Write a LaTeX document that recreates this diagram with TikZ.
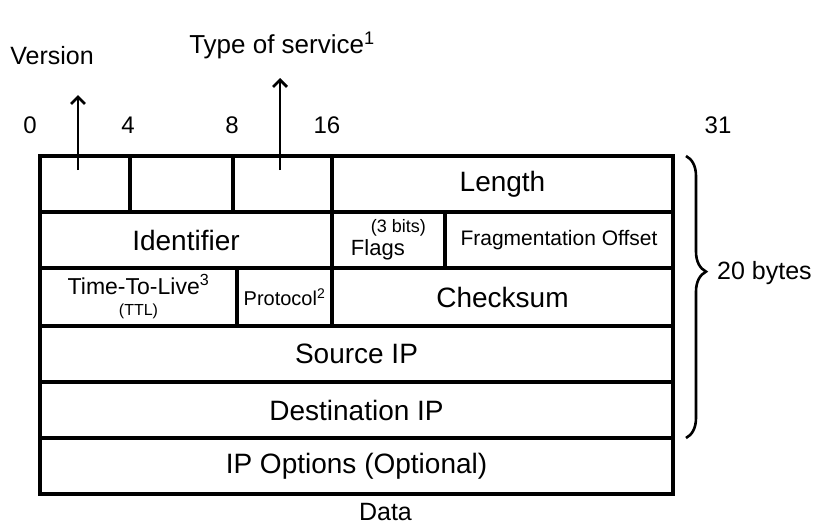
\documentclass[tikz,border=0pt]{standalone}
\usepackage{fontspec}
\setmainfont{Liberation Sans}
\usetikzlibrary{positioning,arrows.meta,decorations.pathreplacing}

\begin{document}
\begin{tikzpicture}[x=1pt,y=-1pt,>={Straight Barb[length=7pt,width=14pt]},
  field/.style={draw,line width=3.2pt,anchor=north west,inner sep=0pt,outer sep=0pt,
    minimum height=56pt,align=center,font=\fontsize{28}{30}\selectfont},
  tag/.style={inner sep=1pt,font=\fontsize{25}{26}\selectfont},
  bit/.style={inner sep=1pt,font=\fontsize{24}{24}\selectfont},
  pointer/.style={->,line width=2.8pt}]
  \useasboundingbox (0,0) rectangle (825,530);

  % word 1
  \node[field,minimum width=90pt] (ver) at (40,156) {};
  \node[field,minimum width=103pt] (ihl) at (130,156) {};
  \node[field,minimum width=99pt] (tos) at (233,156) {};
  \node[field,minimum width=341pt] (len) at (332,156) {Length};
  % word 2
  \node[field,minimum width=292pt] (ident) at (40,212) {Identifier};
  \node[field,minimum width=113pt,align=left,font=\fontsize{22}{22}\selectfont] (flags) at (332,212)
    {\hspace*{20pt}{\fontsize{18}{18}\selectfont(3 bits)}\\[1pt]Flags};
  \node[field,minimum width=228pt,font=\fontsize{21}{22}\selectfont] (frag) at (445,212) {Fragmentation Offset};
  % word 3
  \node[field,minimum width=197pt,minimum height=58pt,font=\fontsize{23}{23}\selectfont] (ttl) at (40,268)
    {Time-To-Live\textsuperscript{3}\\[-2pt]{\fontsize{16}{16}\selectfont(TTL)}};
  \node[field,minimum width=95pt,minimum height=58pt,font=\fontsize{20}{21}\selectfont] (proto) at (237,268) {Protocol\textsuperscript{2}};
  \node[field,minimum width=341pt,minimum height=58pt] (chk) at (332,268) {Checksum};
  % addresses + options
  \node[field,minimum width=633pt] (src) at (40,326) {Source IP};
  \node[field,minimum width=633pt] (dst) at (40,382) {Destination IP};
  \node[field,minimum width=633pt] (opt) at (40,438) {IP Options (Optional)};
  \node[tag,below=8pt of opt,xshift=29pt] (data) {Data};

  % bit offsets
  \foreach \b/\x in {0/30,4/128,8/232,16/327,31/718}
    \node[bit] (b\b) at (\x,125) {\b};

  % callouts
  \node[tag] (version) at (52,56) {Version};
  \node[tag,font=\fontsize{26}{27}\selectfont] (service) at (282,45) {Type of service\textsuperscript{1}};
  \coordinate (vertip) at (78,95);
  \coordinate (tostip) at (280,78);
  \draw[pointer] ([xshift=-7pt,yshift=-14pt]ver.north) -- (vertip);
  \draw[pointer] ([xshift=-2.5pt,yshift=-14pt]tos.north) -- (tostip);

  \draw[line width=2.6pt,decorate,decoration={brace,amplitude=20pt,aspect=0.41}]
    ([xshift=13pt]len.north east) -- ([xshift=13pt]dst.south east);
  \node[tag,anchor=west] (bytes) at (716,273) {20 bytes};
\end{tikzpicture}
\end{document}
